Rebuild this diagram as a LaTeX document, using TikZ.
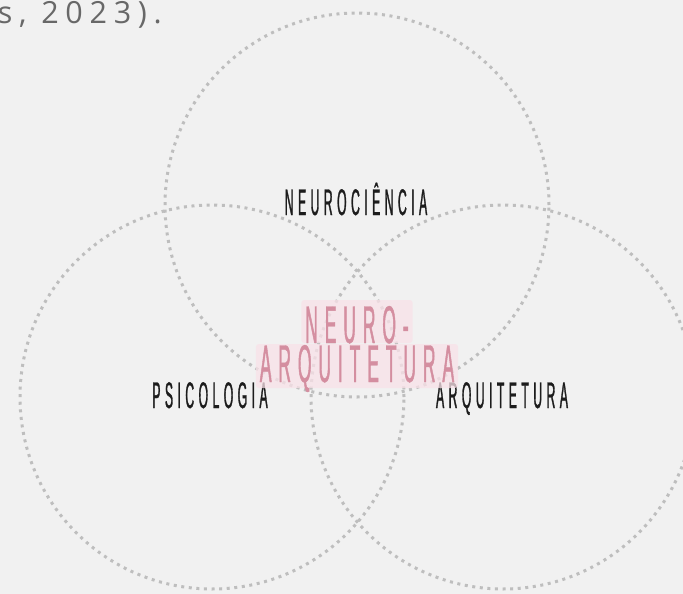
\documentclass[tikz,border=0pt]{standalone}
\usepackage{fontspec}
\newfontfamily\fieldfont[FakeStretch=0.33,FakeBold=0.8,LetterSpace=12]{Liberation Sans}
\newfontfamily\notefont[LetterSpace=22]{Open Sans}
\definecolor{pagegray}{RGB}{241,241,241}
\definecolor{ringgray}{RGB}{190,190,190}
\definecolor{fieldblack}{RGB}{28,28,28}
\definecolor{corepink}{RGB}{212,142,160}
\definecolor{markpink}{RGB}{249,225,232}
\definecolor{notegray}{RGB}{104,104,104}

\begin{document}
\begin{tikzpicture}[
  x=1pt, y=-1pt,
  ring/.style={circle, draw=ringgray, line width=3pt,
               dash pattern=on 3pt off 4.6pt, minimum size=384pt,
               inner sep=0pt, outer sep=0pt},
  field/.style={font=\fieldfont\fontsize{37}{37}\selectfont,
                text=fieldblack, inner sep=0pt, anchor=base},
  core/.style={font=\fieldfont\fontsize{53}{53}\selectfont
                 \addfontfeature{LetterSpace=13},
               text=corepink, fill=markpink, fill opacity=.75,
               text opacity=1, rounded corners=3pt, inner xsep=4pt,
               inner ysep=0pt, anchor=base},
  note/.style={font=\notefont\fontsize{30.5}{30.5}\selectfont,
               text=notegray, inner sep=0pt, anchor=base east}
]
\useasboundingbox[fill=pagegray] (0,0) rectangle (683,594);

\node[note] (cite) at (162,24) {s, 2023).};

% the three fields
\node[ring] (neuro) at (357,205) {};
\node[ring] (psico) at (212,397) {};
\node[ring] (arq) at (503,397) {};

\node[field] (neurolabel) at (356,215) {NEUROCIÊNCIA};
\node[field] (psicolabel) at (210,408) {PSICOLOGIA};
\node[field] (arqlabel) at (502,408) {ARQUITETURA};

% the overlap
\node[core, text height=43pt, text depth=0pt] (coretop) at (357,343)
  {NEURO-};
\node[core, text height=38pt, text depth=6pt] (corebottom) at (357,382)
  {ARQUITETURA};
\end{tikzpicture}
\end{document}
